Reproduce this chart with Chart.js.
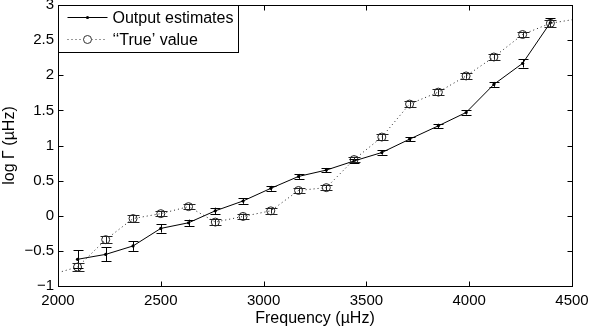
<!DOCTYPE html>
<html>
<head>
<meta charset="utf-8">
<script src="https://cdn.jsdelivr.net/npm/chart.js@4"></script>
<style>
  html, body { margin: 0; padding: 0; background: #fff; }
  #c { display: block; }
</style>
</head>
<body>
<canvas id="c" width="589" height="328"></canvas>
<script>
// ---- data ----
const freq = [2095, 2232, 2365, 2500, 2635, 2765, 2900, 3035, 3170, 3305, 3440, 3575, 3710, 3850, 3985, 4120, 4260, 4395];
const outputEst = [-0.62, -0.55, -0.43, -0.18, -0.10, 0.07, 0.21, 0.39, 0.56, 0.65, 0.78, 0.90, 1.09, 1.28, 1.47, 1.87, 2.17, 2.75];
const outputErr = [0.13, 0.10, 0.07, 0.06, 0.045, 0.045, 0.04, 0.035, 0.035, 0.03, 0.03, 0.03, 0.03, 0.03, 0.03, 0.035, 0.06, 0.06];
const trueVal = [-0.73, -0.34, -0.04, 0.03, 0.13, -0.09, -0.01, 0.07, 0.36, 0.40, 0.80, 1.12, 1.59, 1.76, 1.99, 2.26, 2.58, 2.74];
const trueErr = [0.06, 0.05, 0.045, 0.04, 0.04, 0.04, 0.04, 0.04, 0.04, 0.04, 0.04, 0.04, 0.04, 0.04, 0.04, 0.04, 0.04, 0.05];
const trueLineEndFreq = [2000, 4500];
const trueLineEndVal = [-0.81, 2.79];
const xTicks = [2000, 2500, 3000, 3500, 4000, 4500];
const xTickLabels = ['2000', '2500', '3000', '3500', '4000', '4500'];
const yTicks = [-1, -0.5, 0, 0.5, 1, 1.5, 2, 2.5, 3];
const yTickLabels = ['\u22121', '\u22120.5', '0', '0.5', '1', '1.5', '2', '2.5', '3'];
const seriesNames = ['Output estimates', '\u2018\u2018True\u2019 value'];
const xTitle = 'Frequency (\u00b5Hz)';
const yTitle = 'log \u0393 (\u00b5Hz)';

const FONT = '"Liberation Sans", Arial, Helvetica, sans-serif';
const FS = 15;
const FS2 = 16;

const outPts = freq.map((f, i) => ({x: f, y: outputEst[i]}));
const truePts = freq.map((f, i) => ({x: f, y: trueVal[i]}));
const trueLine = [{x: trueLineEndFreq[0], y: trueLineEndVal[0]}, ...truePts, {x: trueLineEndFreq[1], y: trueLineEndVal[1]}];

const errorBars = {
  id: 'errorBars',
  afterDatasetsDraw(chart) {
    const {ctx, scales: {x, y}} = chart;
    const sets = [
      {vals: outputEst, errs: outputErr, cap: 5, color: '#000'},
      {vals: trueVal, errs: trueErr, cap: 6, color: '#222'}
    ];
    ctx.save();
    ctx.lineWidth = 1;
    sets.forEach(s => {
      ctx.strokeStyle = s.color;
      freq.forEach((f, i) => {
        const px = Math.round(x.getPixelForValue(f)) + 0.5;
        const y1 = y.getPixelForValue(s.vals[i] - s.errs[i]);
        const y2 = y.getPixelForValue(s.vals[i] + s.errs[i]);
        ctx.beginPath();
        ctx.moveTo(px, y1); ctx.lineTo(px, y2);
        ctx.moveTo(px - s.cap, Math.round(y1) + 0.5); ctx.lineTo(px + s.cap, Math.round(y1) + 0.5);
        ctx.moveTo(px - s.cap, Math.round(y2) + 0.5); ctx.lineTo(px + s.cap, Math.round(y2) + 0.5);
        ctx.stroke();
      });
    });
    ctx.restore();
  }
};

const frameLegend = {
  id: 'frameLegend',
  afterDraw(chart) {
    const {ctx, chartArea: a, scales: {x, y}} = chart;
    ctx.save();
    ctx.strokeStyle = '#000';
    ctx.lineWidth = 1;
    const L = Math.round(a.left) + 0.5, R = Math.round(a.right) + 0.5;
    const T = Math.round(a.top) + 0.5, B = Math.round(a.bottom) + 0.5;
    ctx.beginPath();
    xTicks.forEach(v => {
      const px = Math.round(x.getPixelForValue(v)) + 0.5;
      ctx.moveTo(px, B); ctx.lineTo(px, B - 5);
      ctx.moveTo(px, T); ctx.lineTo(px, T + 5);
    });
    yTicks.forEach(v => {
      const py = Math.round(y.getPixelForValue(v)) + 0.5;
      ctx.moveTo(L, py); ctx.lineTo(L + 5, py);
      ctx.moveTo(R, py); ctx.lineTo(R - 5, py);
    });
    ctx.stroke();
    // legend box
    const lx = L, ly = T, lw = 180, lh = 47;
    ctx.fillStyle = '#fff';
    ctx.fillRect(lx, ly, lw, lh);
    ctx.strokeRect(lx, ly, lw, lh);
    ctx.strokeRect(L, T, R - L, B - T);
    // row 1
    const r1 = ly + 12, r2 = ly + 34;
    ctx.beginPath();
    ctx.moveTo(lx + 9, r1); ctx.lineTo(lx + 49, r1);
    ctx.stroke();
    ctx.fillStyle = '#000';
    ctx.beginPath(); ctx.arc(lx + 29, r1, 1.6, 0, Math.PI * 2); ctx.fill();
    // row 2
    ctx.strokeStyle = '#333';
    ctx.setLineDash([1, 3]);
    ctx.beginPath();
    ctx.moveTo(lx + 9, r2); ctx.lineTo(lx + 49, r2);
    ctx.stroke();
    ctx.setLineDash([]);
    ctx.fillStyle = '#fff';
    ctx.beginPath(); ctx.arc(lx + 29, r2, 4, 0, Math.PI * 2); ctx.fill(); ctx.stroke();
    ctx.fillStyle = '#000';
    ctx.font = FS2 + 'px ' + FONT;
    ctx.textBaseline = 'middle';
    ctx.textAlign = 'left';
    ctx.fillText(seriesNames[0], lx + 54, r1 + 1);
    ctx.fillText(seriesNames[1], lx + 54, r2 + 1);
    ctx.restore();
  }
};

new Chart(document.getElementById('c'), {
  type: 'scatter',
  data: {
    datasets: [
      {
        label: seriesNames[1] + ' line',
        data: trueLine,
        showLine: true,
        borderColor: '#222',
        borderWidth: 1,
        borderDash: [1, 3],
        pointRadius: 0,
        fill: false,
        tension: 0
      },
      {
        label: seriesNames[1],
        data: truePts,
        showLine: false,
        pointStyle: 'circle',
        pointRadius: 4,
        pointBorderWidth: 1,
        pointBorderColor: '#222',
        pointBackgroundColor: 'rgba(0,0,0,0)'
      },
      {
        label: seriesNames[0],
        data: outPts,
        showLine: true,
        borderColor: '#000',
        borderWidth: 1,
        pointRadius: 1.6,
        pointBorderWidth: 0,
        pointBackgroundColor: '#000',
        fill: false,
        tension: 0
      }
    ]
  },
  options: {
    responsive: false,
    animation: false,
    devicePixelRatio: 1,
    layout: {padding: {top: 5, right: 17, left: 0, bottom: 0}},
    plugins: {legend: {display: false}, tooltip: {enabled: false}},
    scales: {
      x: {
        type: 'linear', min: 2000, max: 4500,
        afterBuildTicks: s => { s.ticks = xTicks.map(v => ({value: v})); },
        ticks: {
          color: '#000', font: {family: FONT, size: FS}, padding: 6, maxRotation: 0,
          callback: (v) => xTickLabels[xTicks.indexOf(v)]
        },
        grid: {display: false, drawTicks: false},
        border: {display: false},
        title: {display: true, text: xTitle, color: '#000', font: {family: FONT, size: FS2}, padding: {top: 0, bottom: 0}},
        afterFit: s => { s.height = 42; s.paddingLeft = 0; s.paddingRight = 0; }
      },
      y: {
        type: 'linear', min: -1, max: 3,
        afterBuildTicks: s => { s.ticks = yTicks.map(v => ({value: v})); },
        ticks: {
          color: '#000', font: {family: FONT, size: FS}, padding: 4,
          callback: (v) => yTickLabels[yTicks.indexOf(v)]
        },
        grid: {display: false, drawTicks: false},
        border: {display: false},
        title: {display: true, text: yTitle, color: '#000', font: {family: FONT, size: FS2}, padding: {top: 0, bottom: 0}},
        afterFit: s => { s.width = 58; s.paddingTop = 0; s.paddingBottom = 0; }
      }
    }
  },
  plugins: [errorBars, frameLegend]
});
</script>
</body>
</html>
